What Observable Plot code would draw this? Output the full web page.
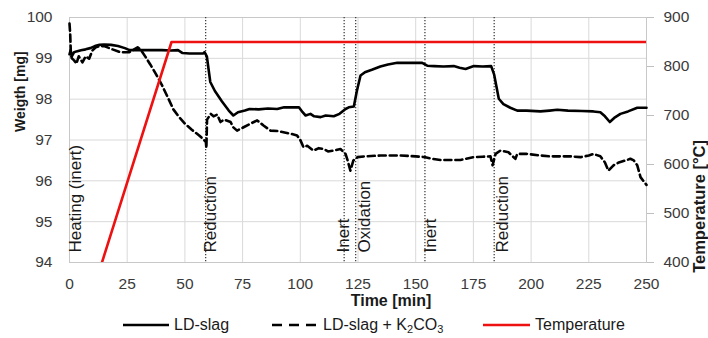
<!DOCTYPE html>
<html>
<head>
<meta charset="utf-8">
<script src="https://cdn.jsdelivr.net/npm/d3@7"></script>
<script src="https://cdn.jsdelivr.net/npm/@observablehq/plot@0.6"></script>
<style>
  body { margin: 0; background: #fff; }
  #wrap { position: relative; width: 708px; height: 338px; font-family: "Liberation Sans", Arial, sans-serif; }
  #legend { position: absolute; left: 0; top: 313px; width: 708px; height: 25px; font-size: 16px; color: #1a1a1a; }
  .item { position: absolute; top: 2px; display: flex; align-items: center; height: 20px; white-space: nowrap; }
  .item svg { margin-right: 5px; }
  sub { font-size: 11px; position: relative; top: 4px; vertical-align: baseline; line-height: 0; }
</style>
</head>
<body>
<div id="wrap">
  <div id="chart"></div>
  <div id="legend">
    <div class="item" style="left:123px"><svg width="46" height="6"><line x1="0" y1="3" x2="46" y2="3" stroke="#000" stroke-width="2.5"/></svg>LD-slag</div>
    <div class="item" style="left:272px"><svg width="46" height="6"><line x1="0" y1="3" x2="46" y2="3" stroke="#000" stroke-width="2.5" stroke-dasharray="10,7"/></svg>LD-slag + K<sub>2</sub>CO<sub>3</sub></div>
    <div class="item" style="left:483px"><svg width="47" height="6"><line x1="0" y1="3" x2="47" y2="3" stroke="#ee1111" stroke-width="2.5"/></svg>Temperature</div>
  </div>
</div>
<script>
// ---- data ----
const xTicks = [0, 25, 50, 75, 100, 125, 150, 175, 200, 225, 250];
const yTicks = [94, 95, 96, 97, 98, 99, 100];
const tempTicks = [400, 500, 600, 700, 800, 900];

const slagTime = [0,0.5,1,2,3,5,7,9,11,13,15,18,21,24,26,30,35,40,44,47,49,52,55,58,58.5,59.5,61,63,66,69,71,73,76,78,82,86,90,93,96,99.4,101,102.3,104.4,106,108.8,111,114.5,117,119.6,121,123.2,124.5,126.1,128,131,134.7,138,142,148,152.8,155,158,162,166.5,169,171.6,175.2,179,182.7,184,186,188,191,194,198,204,208,211.3,216,222,227,230,232,234.1,236,238.7,242,246,250];
const slagWeight = [99.1,99.2,99.05,99.15,99.17,99.2,99.22,99.25,99.3,99.33,99.34,99.33,99.3,99.25,99.2,99.2,99.2,99.2,99.19,99.2,99.13,99.12,99.12,99.12,99.15,99.05,98.42,98.2,97.95,97.72,97.6,97.68,97.72,97.76,97.75,97.77,97.76,97.8,97.8,97.8,97.68,97.6,97.64,97.58,97.56,97.6,97.58,97.64,97.76,97.8,97.82,98.2,98.58,98.66,98.72,98.8,98.85,98.89,98.89,98.89,98.82,98.81,98.8,98.81,98.77,98.74,98.81,98.8,98.81,98.6,98.01,97.88,97.79,97.72,97.72,97.7,97.72,97.74,97.72,97.71,97.7,97.68,97.58,97.44,97.54,97.64,97.7,97.79,97.79];

const k2Time = [0,0.3,0.6,1,2,3,4,5.6,7,8.5,10,11.4,13,15,18.6,22,25.9,28,29.5,31,33,35,37.4,40,43.2,45,47.5,50,53,56.2,58,59.1,59.3,59.6,61.2,62.4,64,65.4,67,69.8,71,72.6,75,78.4,81.3,84.2,87.1,90,92.7,96,98.6,100,101.4,103,105.7,108,110,112,114.4,117.4,119.6,120.5,121.7,123,124.8,128.2,134.7,143.4,150,154.2,157,160.7,165,169.4,175,179,182.4,183.3,184.6,186.7,190.2,192,193.2,194,198,204,208,212.7,217,221.4,225,227,230,232,233.5,235.7,238,241,243,244.5,246,247.4,250];
const k2Weight = [99.85,99.6,99.1,99.0,98.95,98.87,99.05,98.9,99.05,98.99,99.2,99.27,99.3,99.3,99.22,99.15,99.15,99.22,99.27,99.2,99.03,98.85,98.62,98.35,97.97,97.75,97.56,97.4,97.25,97.11,97.02,96.95,96.8,97.5,97.64,97.58,97.62,97.44,97.5,97.44,97.31,97.23,97.3,97.4,97.48,97.35,97.23,97.22,97.19,97.15,97.11,97.0,96.82,96.86,96.74,96.8,96.78,96.72,96.74,96.78,96.66,96.5,96.25,96.5,96.58,96.6,96.62,96.62,96.6,96.58,96.54,96.51,96.51,96.51,96.58,96.59,96.6,96.38,96.66,96.74,96.7,96.6,96.54,96.66,96.66,96.62,96.6,96.6,96.6,96.58,96.62,96.66,96.6,96.45,96.25,96.38,96.45,96.5,96.54,96.5,96.38,96.09,95.9];

const tempTime = [0, 44.2, 250];
const tempValue = [190, 850, 850];

const phaseLines = [59, 119, 124, 154, 184];
const phaseLabels = ["Heating (inert)", "Reduction", "Inert", "Oxidation", "Inert", "Reduction"];
const phaseLabelTime = [4.8, 63.3, 121.1, 130.4, 158.6, 190.2];

// ---- helpers ----
const toW = T => 94 + (T - 400) / 500 * 6;
const fromW = w => 400 + (w - 94) / 6 * 500;

const slag = slagTime.map((t, i) => ({t, w: slagWeight[i]}));
const k2 = k2Time.map((t, i) => ({t, w: k2Weight[i]}));
const temp = tempTime.map((t, i) => ({t, w: toW(tempValue[i])}));
const phases = phaseLabels.map((label, i) => ({label, t: phaseLabelTime[i]}));

const chart = Plot.plot({
  width: 708,
  height: 313,
  marginTop: 17,
  marginLeft: 69,
  marginRight: 62,
  marginBottom: 51,
  x: {domain: [0, 250]},
  y: {domain: [94, 100]},
  style: {fontFamily: "'Liberation Sans', Arial, sans-serif", fontSize: "15.5px", background: "#fff"},
  marks: [
    Plot.gridX(xTicks, {stroke: "#d9d9d9", strokeOpacity: 1}),
    Plot.gridY(yTicks, {stroke: "#d9d9d9", strokeOpacity: 1}),
    Plot.frame({stroke: "#c8c8c8"}),
    Plot.axisX(xTicks, {tickSize: 0, tickPadding: 15, label: null, fill: "#3a3a3a"}),
    Plot.axisY(yTicks, {tickSize: 0, tickPadding: 17, label: null, fill: "#3a3a3a"}),
    Plot.axisY(tempTicks.map(toW), {anchor: "right", tickSize: 7, tickPadding: 10, stroke: "#bfbfbf", fill: "#3a3a3a", tickFormat: w => Math.round(fromW(w)), label: null}),
    Plot.ruleX(phaseLines, {stroke: "#333", strokeWidth: 1.2, strokeDasharray: "1.3,1.7"}),
    Plot.text(phases, {x: "t", text: "label", frameAnchor: "bottom", rotate: -90, textAnchor: "start", dy: -10, fontSize: 17, fill: "#1a1a1a"}),
    Plot.line(slag, {x: "t", y: "w", stroke: "#000", strokeWidth: 2.6}),
    Plot.line(k2, {x: "t", y: "w", stroke: "#000", strokeWidth: 2.6, strokeDasharray: "7,4"}),
    Plot.line(temp, {x: "t", y: "w", stroke: "#ee1111", strokeWidth: 2.6, clip: true}),
    Plot.text(["Time [min]"], {frameAnchor: "bottom", dx: 33, dy: 43, fontWeight: "bold", fontSize: 16, fill: "#1a1a1a"}),
    Plot.text(["Weigth [mg]"], {frameAnchor: "left", dx: -48.5, dy: -8, rotate: -90, fontWeight: "bold", fontSize: 14, fill: "#1a1a1a"}),
    Plot.text(["Temperature [°C]"], {frameAnchor: "right", dx: 53, rotate: -90, fontWeight: "bold", fontSize: 16.5, fill: "#1a1a1a"})
  ]
});
document.getElementById("chart").appendChild(chart);
</script>
</body>
</html>
